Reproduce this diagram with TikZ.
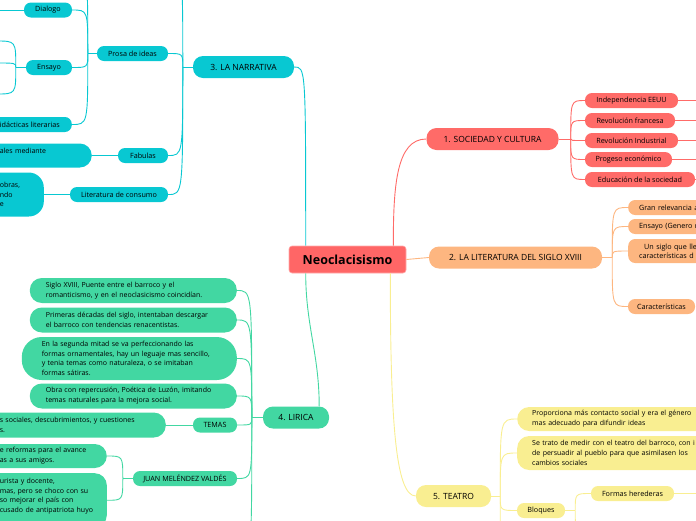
\documentclass[tikz,border=0pt]{standalone}
\usepackage{fontspec}
\setmainfont{Open Sans}
\definecolor{rootred}{RGB}{255,102,102}
\definecolor{socred}{RGB}{255,107,104}
\definecolor{litorange}{RGB}{253,182,128}
\definecolor{narcyan}{RGB}{8,200,210}
\definecolor{lirgreen}{RGB}{66,215,162}
\definecolor{teayellow}{RGB}{249,238,145}
\begin{document}
\begin{tikzpicture}[x=1pt,y=1pt,
    root/.style={fill=rootred,draw=rootred!55!white,line width=0.6pt,rounded corners=3pt,
      minimum width=117pt,minimum height=27pt,font=\fontsize{12.5}{14}\selectfont\bfseries},
    topic/.style={rounded corners=10pt,minimum height=22pt,inner xsep=0pt,
      font=\fontsize{8.5}{10}\selectfont},
    sub/.style={rounded corners=7pt,minimum height=15pt,inner xsep=0pt,inner ysep=1pt,
      font=\fontsize{7.2}{8.8}\selectfont},
    rcut/.style={anchor=west,inner xsep=11pt,text width=#1,align=left},
    note/.style={rounded corners=12pt,inner xsep=12pt,inner ysep=3pt,align=left,
      font=\fontsize{7}{9.7}\selectfont},
    link/.style={line width=0.9pt},
    fork/.style={to path={.. controls (\tikztostart |- \tikztotarget) .. (\tikztotarget)}}
  ]
\useasboundingbox (0,0) rectangle (696,-520);
\clip (0,0) rectangle (696,-520);

%% centre
\node[root] (neo) at (347.5,-259.5) {Neoclacisismo};

%% 1. sociedad y cultura
\node[topic,fill=socred,minimum width=132pt] (soc) at (492.5,-139) {1. SOCIEDAD Y CULTURA};
\node[sub,fill=socred,minimum width=93pt] (eeuu) at (631.5,-100.5) {Independencia EEUU};
\node[sub,fill=socred,minimum width=90pt] (francia) at (630,-120.5) {Revolución francesa};
\node[sub,fill=socred,minimum width=93pt] (industria) at (631.5,-140.5) {Revolución Industrial};
\node[sub,fill=socred,minimum width=87pt] (progreso) at (628.5,-159.5) {Progeso económico};
\node[sub,fill=socred,minimum width=110pt] (educacion) at (640,-179.5) {Educación de la sociedad};

%% 2. literatura
\node[topic,fill=litorange,minimum width=173pt] (lit) at (515.5,-257.5) {2. LA LITERATURA DEL SIGLO XVIII};
\node[sub,rcut=70pt,fill=litorange] (relevancia) at (628,-207.5) {Gran relevancia a};
\node[sub,rcut=70pt,fill=litorange] (ensayo) at (628,-226.5) {Ensayo (Genero n};
\node[sub,rcut=70pt,fill=litorange,minimum height=24pt] (siglo) at (628,-251) {\hspace*{5pt}Un siglo que lle\\características d};
\node[sub,fill=litorange,minimum width=67pt] (rasgos) at (661.5,-306.5) {Características};

%% 3. narrativa
\node[topic,fill=narcyan,minimum width=101pt] (narr) at (243.5,-67) {3. LA NARRATIVA};
\node[sub,fill=narcyan,minimum width=71pt] (prosa) at (132.5,-53.5) {Prosa de ideas};
\node[sub,fill=narcyan,minimum width=50pt] (fabulas) at (143,-155.5) {Fabulas};
\node[sub,fill=narcyan,minimum width=98pt] (consumo) at (119,-194.5) {Literatura de consumo};
\node[sub,fill=narcyan,minimum width=48pt] (dialogo) at (48,-10) {Dialogo};
\node[sub,fill=narcyan,minimum width=46pt] (ensayon) at (49,-67.5) {Ensayo};
\node[sub,fill=narcyan,anchor=east,inner xsep=12pt] (didacticas) at (72,-124.5) {didácticas literarias};
\node[note,fill=narcyan,anchor=east,text width=80pt,minimum height=24pt] (fabnota) at (92,-155.5) {ales mediante\\\mbox{}};
\node[note,fill=narcyan,anchor=east,text width=29pt,inner xsep=15pt,rounded corners=15pt,minimum height=44pt] (consnota) at (44,-194.5) {obras,\\ndo\\e};

%% 4. lirica
\node[topic,fill=lirgreen,minimum width=66pt] (lirica) at (296,-417.5) {4. LIRICA};
\node[note,fill=lirgreen,anchor=east,inner xsep=16pt,text width=175pt,minimum height=25pt] (puente) at (237,-290.5) {Siglo XVIII, Puente entre el barroco y el\\romanticismo, y en el neoclasicismo coincidían.};
\node[note,fill=lirgreen,anchor=east,inner xsep=16pt,text width=175pt,minimum height=25pt] (decadas) at (237,-320) {Primeras décadas del siglo, intentaban descargar\\el barroco con tendencias renacentistas.};
\node[note,fill=lirgreen,anchor=east,inner xsep=20pt,text width=175pt,rounded corners=20pt,minimum height=43pt] (mitad) at (237,-358.5) {En la segunda mitad se va perfeccionando las\\formas ornamentales, hay un leguaje mas sencillo,\\y tenia temas como naturaleza, o se imitaban\\formas sátiras.};
\node[note,fill=lirgreen,anchor=east,inner xsep=16pt,text width=175pt,minimum height=25pt] (luzan) at (237,-396) {Obra con repercusión, Poética de Luzón, imitando\\temas naturales para la mejora social.};
\node[sub,fill=lirgreen,minimum width=44pt] (temas) at (215,-425) {TEMAS};
\node[sub,fill=lirgreen,minimum width=104pt] (melendez) at (185,-478.5) {JUAN MELÉNDEZ VALDÉS};
\node[note,fill=lirgreen,anchor=east,text width=154pt,minimum height=25pt] (temasnota) at (166,-425) {s sociales, descubrimientos, y cuestiones\\s.};
\node[note,fill=lirgreen,anchor=east,text width=95pt,minimum height=24pt] (reformas) at (107,-456) {e reformas para el avance\\as a sus amigos.};
\node[note,fill=lirgreen,anchor=north east,text width=95pt,inner ysep=5pt] (jurista) at (107,-473) {urista y docente,\\mas, pero se choco con su\\so mejorar el país con\\cusado de antipatriota huyo\\\mbox{}};

%% 5. teatro
\node[topic,fill=teayellow,minimum width=75pt] (teatro) at (453.5,-496) {5. TEATRO};
\node[note,fill=teayellow,anchor=west,inner xsep=15pt,text width=200pt,minimum height=24pt] (contacto) at (517,-419) {Proporciona más contacto social y era el género\\mas adecuado para difundir ideas};
\node[note,fill=teayellow,anchor=west,inner xsep=15pt,text width=200pt,minimum height=34pt] (barroco) at (517,-453) {Se trato de medir con el teatro del barroco, con i\\de persuadir al pueblo para que asimilasen los\\cambios sociales};
\node[sub,fill=teayellow,minimum width=48pt] (bloques) at (541,-510.5) {Bloques};
\node[sub,fill=teayellow,minimum width=83pt] (herederas) at (632.5,-493.5) {Formas herederas};

%% off-picture ends
\coordinate (narup) at (168,30);
\coordinate (prosaup) at (72,30);
\coordinate (ens1) at (-4,-41);
\coordinate (ens2) at (-4,-63);
\coordinate (ens3) at (-4,-94);
\coordinate (lirdown) at (237,-560);
\coordinate (teadown) at (517,-560);
\coordinate (bloqdown) at (591,-530);

%% main branches
\draw[link,socred] ([xshift=-13pt]neo.north east) .. controls +(0,60) and +(-30,0) .. (soc.west);
\draw[link,litorange] (neo.east) -- (lit.west);
\coordinate (narroot) at ([xshift=17pt]neo.north west);
\draw[link,narcyan] (narroot) to[fork] (narr.east);
\draw[link,lirgreen] ([xshift=17pt]neo.south west) to[out=270,in=90] ([xshift=-10pt]lirica.north east);
\draw[link,teayellow] ([xshift=-16pt]neo.south east) .. controls +(0,-150) and +(-20,0) .. (teatro.west);

%% sub branches
\draw[link,socred] (soc.east) -- ++(12,0) coordinate (socf);
\foreach \n in {eeuu,francia,industria,progreso,educacion}{
  \draw[link,socred] (socf) to[fork] (\n.west);
  \draw[link,socred] (\n.east) -- ++(30,0);
}
\draw[link,litorange] (lit.east) -- ++(10,0) coordinate (litf);
\foreach \n in {relevancia,ensayo,siglo,rasgos}
  \draw[link,litorange] (litf) to[fork] (\n.west);

\draw[link,narcyan] (narr.west) -- ++(-10,0) coordinate (narf);
\foreach \n in {prosa.east,fabulas.east,consumo.east,narup}
  \draw[link,narcyan] (narf) to[fork] (\n);
\draw[link,narcyan] (prosa.west) -- ++(-9,0) coordinate (prosaf);
\foreach \n in {dialogo.east,ensayon.east,didacticas.east,prosaup}
  \draw[link,narcyan] (prosaf) to[fork] (\n);
\draw[link,narcyan] (dialogo.west) -- ++(-30,0);
\draw[link,narcyan] (ensayon.west) -- ++(-10,0) coordinate (ensayof);
\foreach \n in {ens1,ens2,ens3}
  \draw[link,narcyan] (ensayof) to[fork] (\n);
\draw[link,narcyan] (fabulas.west) -- (fabnota.east);
\draw[link,narcyan] (consumo.west) -- (consnota.east);

\draw[link,lirgreen] (lirica.west) -- ++(-11,0) coordinate (lirf);
\foreach \n in {puente.east,decadas.east,mitad.east,luzan.east,temas.east,melendez.east,lirdown}
  \draw[link,lirgreen] (lirf) to[fork] (\n);
\draw[link,lirgreen] (temas.west) -- (temasnota.east);
\draw[link,lirgreen] (melendez.west) -- ++(-10,0) coordinate (melf);
\foreach \n in {reformas,jurista}
  \draw[link,lirgreen] (melf) to[fork] (\n.east);

\draw[link,teayellow] (teatro.east) -- ++(9,0) coordinate (teaf);
\foreach \n in {contacto.west,barroco.west,bloques.west,teadown}
  \draw[link,teayellow] (teaf) to[fork] (\n);
\draw[link,teayellow] (bloques.east) -- ++(10,0) coordinate (bloqf);
\foreach \n in {herederas.west,bloqdown}
  \draw[link,teayellow] (bloqf) to[fork] (\n);
\draw[link,teayellow] (herederas.east) -- ++(30,0);
\end{tikzpicture}
\end{document}
